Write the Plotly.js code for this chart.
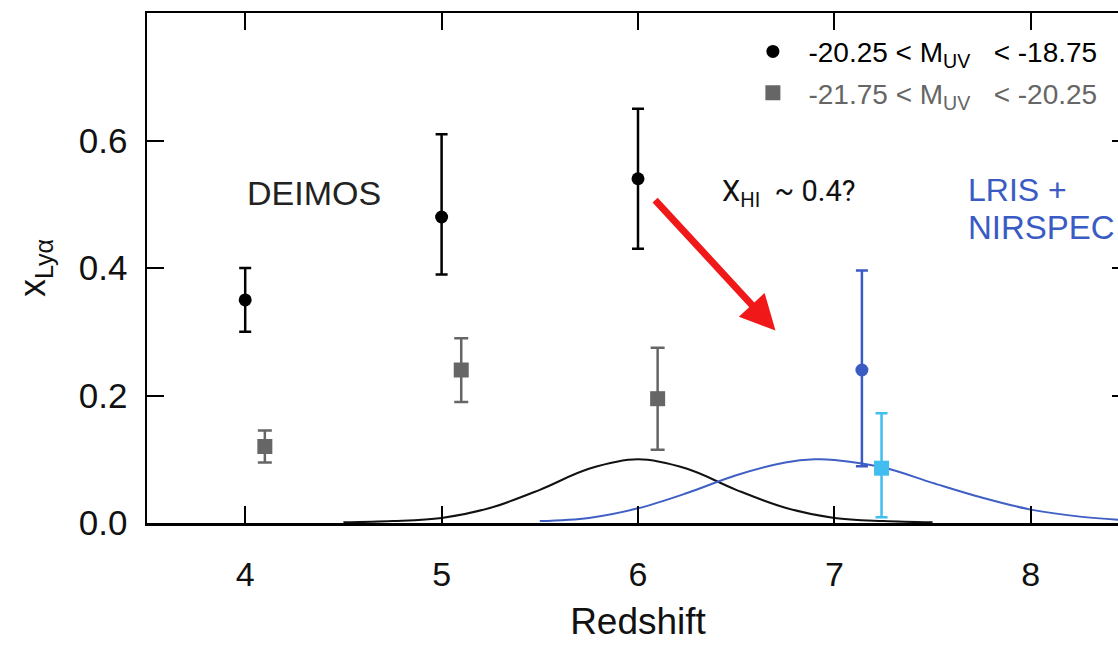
<!DOCTYPE html>
<html>
<head>
<meta charset="utf-8">
<script src="https://cdn.plot.ly/plotly-3.0.1.min.js"></script>
<style>
html, body { margin:0; padding:0; overflow:hidden; background:#fff; }
#chart { width:1250px; height:649px; }
</style>
</head>
<body>
<div id="chart"></div>
<script>
// Faint sample: -20.25 < M_UV < -18.75 (DEIMOS)
const faintZ = [4.0, 5.0, 6.0];
const faintX = [0.35, 0.48, 0.54];
const faintErrPlus = [0.05, 0.13, 0.11];
const faintErrMinus = [0.05, 0.09, 0.11];

// Bright sample: -21.75 < M_UV < -20.25 (DEIMOS)
const brightZ = [4.1, 5.1, 6.1];
const brightX = [0.12, 0.24, 0.195];
const brightErrPlus = [0.025, 0.05, 0.08];
const brightErrMinus = [0.025, 0.05, 0.08];

// LRIS + NIRSPEC z~7 points
const lrisFaintZ = [7.14];
const lrisFaintX = [0.24];
const lrisFaintErrPlus = [0.156];
const lrisFaintErrMinus = [0.151];

const lrisBrightZ = [7.24];
const lrisBrightX = [0.086];
const lrisBrightErrPlus = [0.086];
const lrisBrightErrMinus = [0.077];

// Redshift distributions
const curveBlackZ = [4.5, 4.75, 5.0, 5.25, 5.5, 5.75, 6.0, 6.25, 6.5, 6.75, 7.0, 7.25, 7.5];
const curveBlackY = [0.001, 0.003, 0.008, 0.024, 0.052, 0.085, 0.100, 0.085, 0.052, 0.024, 0.008, 0.003, 0.001];
const curveBlueZ = [5.5, 5.75, 6.0, 6.25, 6.5, 6.75, 6.9, 7.0, 7.25, 7.5, 7.75, 8.0, 8.25, 8.5];
const curveBlueY = [0.003, 0.008, 0.023, 0.047, 0.075, 0.095, 0.100, 0.099, 0.087, 0.063, 0.040, 0.021, 0.010, 0.004];

// Axis ticks
const xTicks = [4, 5, 6, 7, 8];
const yTicks = [0.0, 0.2, 0.4, 0.6];
const yTickText = ['0.0', '0.2', '0.4', '0.6'];

// Legend labels
const NB = '\u00a0';
const labelFaint = NB + NB + '-20.25 < M<sub>UV</sub>' + NB + NB + ' < -18.75';
const labelBright = NB + NB + '<span style="color:#666666">-21.75 < M<sub>UV</sub>' + NB + NB + ' < -20.25</span>';

// Annotation anchors (data coordinates)
const arrowTail = [6.08, 0.509];
const arrowHead = [6.70, 0.302];
const deimosPos = [4.35, 0.518];
const xhiPos = [6.42, 0.518];
const lrisPos = [7.67, 0.522];
const nirspecPos = [7.67, 0.463];

const FONT = 'Liberation Sans, Arial, Helvetica, sans-serif';

const traces = [
  { x: curveBlackZ, y: curveBlackY, type: 'scatter', mode: 'lines',
    line: { color: '#111111', width: 2, shape: 'spline' }, showlegend: false, hoverinfo: 'skip' },
  { x: curveBlueZ, y: curveBlueY, type: 'scatter', mode: 'lines',
    line: { color: '#3f5fc4', width: 2, shape: 'spline' }, showlegend: false, hoverinfo: 'skip' },
  { x: faintZ, y: faintX, type: 'scatter', mode: 'markers', name: labelFaint,
    legendgroup: 'a',
    marker: { symbol: 'circle', size: 13, color: '#000000' },
    error_y: { type: 'data', symmetric: false, array: faintErrPlus, arrayminus: faintErrMinus,
      color: '#000000', thickness: 2.5, width: 6 } },
  { x: brightZ, y: brightX, type: 'scatter', mode: 'markers', name: labelBright,
    legendgroup: 'b',
    marker: { symbol: 'square', size: 15, color: '#666666' },
    error_y: { type: 'data', symmetric: false, array: brightErrPlus, arrayminus: brightErrMinus,
      color: '#666666', thickness: 2.5, width: 7 } },
  { x: lrisFaintZ, y: lrisFaintX, type: 'scatter', mode: 'markers', showlegend: false,
    marker: { symbol: 'circle', size: 13, color: '#3a5bc4' },
    error_y: { type: 'data', symmetric: false, array: lrisFaintErrPlus, arrayminus: lrisFaintErrMinus,
      color: '#3a5bc4', thickness: 2.5, width: 6 } },
  { x: lrisBrightZ, y: lrisBrightX, type: 'scatter', mode: 'markers', showlegend: false,
    marker: { symbol: 'square', size: 15, color: '#41bdef' },
    error_y: { type: 'data', symmetric: false, array: lrisBrightErrPlus, arrayminus: lrisBrightErrMinus,
      color: '#41bdef', thickness: 2.5, width: 6 } }
];

const layout = {
  width: 1250, height: 649,
  margin: { l: 147, r: 121, t: 13, b: 126 },
  paper_bgcolor: '#ffffff', plot_bgcolor: '#ffffff',
  font: { family: FONT, color: '#111111' },
  showlegend: true,
  legend: {
    x: 0.617, y: 0.973, xanchor: 'left', yanchor: 'top',
    bgcolor: 'rgba(0,0,0,0)', borderwidth: 0,
    font: { family: FONT, size: 28, color: '#000000' },
    traceorder: 'grouped', tracegroupgap: 2
  },
  xaxis: {
    range: [3.5, 8.5], tickvals: xTicks, ticktext: xTicks.map(String),
    ticks: 'inside', ticklen: 17, tickwidth: 2, tickcolor: '#000',
    showline: true, linecolor: '#000', linewidth: 2.5, mirror: 'ticks',
    showgrid: false, zeroline: false,
    tickfont: { family: FONT, size: 34, color: '#111' },
    ticklabelstandoff: 20,
    title: { text: 'Redshift', font: { family: FONT, size: 37, color: '#111' }, standoff: 16 }
  },
  yaxis: {
    range: [0, 0.8], tickvals: yTicks, ticktext: yTickText,
    ticks: 'inside', ticklen: 17, tickwidth: 2, tickcolor: '#000',
    showline: true, linecolor: '#000', linewidth: 2.5, mirror: 'ticks',
    showgrid: false, zeroline: false,
    tickfont: { family: FONT, size: 35, color: '#111' },
    ticklabelstandoff: 10,
    title: { text: 'x<sub>Lyα</sub>', font: { family: FONT, size: 36, color: '#111' }, standoff: 22 }
  },
  annotations: [
    { x: arrowHead[0], y: arrowHead[1], ax: arrowTail[0], ay: arrowTail[1],
      xref: 'x', yref: 'y', axref: 'x', ayref: 'y',
      showarrow: true, arrowhead: 2, arrowsize: 1, arrowwidth: 7, arrowcolor: '#f01818', text: '' },
    { x: deimosPos[0], y: deimosPos[1], xref: 'x', yref: 'y', text: 'DEIMOS', showarrow: false,
      font: { family: FONT, size: 34, color: '#222' } },
    { x: xhiPos[0], y: xhiPos[1], xref: 'x', yref: 'y', xanchor: 'left', text: 'X<sub>HI</sub>' + NB + ' ~ 0.4?', showarrow: false,
      font: { family: 'Roboto, sans-serif', size: 29, color: '#111' } },
    { x: lrisPos[0], y: lrisPos[1], xref: 'x', yref: 'y', xanchor: 'left', text: 'LRIS +', showarrow: false,
      font: { family: FONT, size: 32, color: '#3a5bc4' } },
    { x: nirspecPos[0], y: nirspecPos[1], xref: 'x', yref: 'y', xanchor: 'left', text: 'NIRSPEC', showarrow: false,
      font: { family: FONT, size: 33, color: '#3a5bc4' } }
  ]
};

Plotly.newPlot('chart', traces, layout, { displayModeBar: false, staticPlot: true });
</script>
</body>
</html>
